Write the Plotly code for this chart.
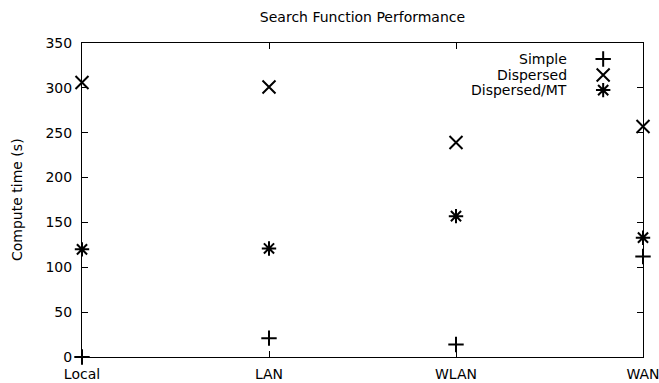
import plotly.graph_objects as go

# Network configurations and measured compute times (seconds)
categories = ["Local", "LAN", "WLAN", "WAN"]
simple = [0, 21, 14, 112]
dispersed = [306, 301, 239, 257]
dispersed_mt = [120, 121, 157, 133]

series = [
    ("Simple", simple, "cross-thin-open", 11),
    ("Dispersed", dispersed, "x-thin-open", 13),
    ("Dispersed/MT", dispersed_mt, "asterisk-open", 12),
]

FONT = "DejaVu Sans"
W, H = 659, 383
fig = go.Figure()

for name, vals, sym, msize in series:
    fig.add_trace(go.Scatter(
        x=categories, y=vals, mode="markers", name=name,
        marker=dict(symbol=sym, size=msize, color="black",
                    line=dict(color="black", width=2)),
        cliponaxis=False, showlegend=False,
    ))

# Key in the top-right corner: label on the left, symbol on the right
key_y = [0.949, 0.898, 0.850]
for (name, _, sym, msize), ky in zip(series, key_y):
    fig.add_annotation(xref="paper", yref="paper", x=0.868, y=ky,
                       text=name, showarrow=False, xanchor="right",
                       yanchor="middle", font=dict(family=FONT, size=14, color="black"))
    fig.add_trace(go.Scatter(
        x=[0.929], y=[ky], xaxis="x2", yaxis="y2", mode="markers",
        marker=dict(symbol=sym, size=msize, color="black",
                    line=dict(color="black", width=2)),
        showlegend=False, hoverinfo="skip", cliponaxis=False,
    ))

# Rotated y-axis label
fig.add_annotation(xref="paper", yref="paper", x=(17 - 82) / 561, y=0.5,
                   text="Compute time (s)", textangle=-90, showarrow=False,
                   xanchor="center", yanchor="middle",
                   font=dict(family=FONT, size=14, color="black"))

axis_common = dict(showgrid=False, zeroline=False, showline=True,
                   linecolor="black", linewidth=1, mirror="ticks",
                   ticks="inside", ticklen=6, tickcolor="black",
                   automargin=False, tickfont=dict(family=FONT, size=14))

fig.update_layout(
    width=W, height=H,
    margin=dict(l=82, r=16, t=43, b=26, autoexpand=False),
    paper_bgcolor="white", plot_bgcolor="white",
    font=dict(family=FONT, size=14, color="black"),
    title=dict(text="Search Function Performance", x=0.5, xref="paper",
               xanchor="center", y=1 - 17 / H, yref="container", yanchor="middle",
               font=dict(family=FONT, size=14)),
    xaxis=dict(type="category", range=[0, 3], ticklabelstandoff=4, **axis_common),
    yaxis=dict(range=[0, 350], dtick=50, ticklabelstandoff=6, **axis_common),
    xaxis2=dict(range=[0, 1], overlaying="x", visible=False, fixedrange=True),
    yaxis2=dict(range=[0, 1], overlaying="y", visible=False, fixedrange=True),
)

fig.write_html("out.html")
